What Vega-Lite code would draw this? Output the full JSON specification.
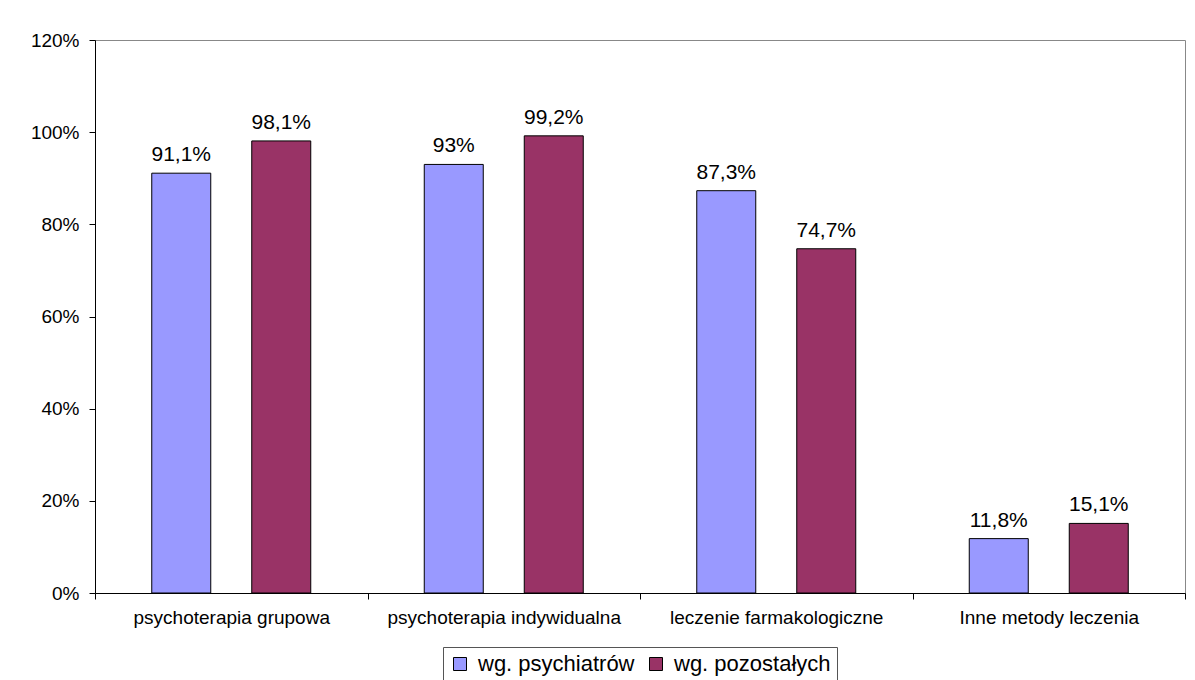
{
  "$schema": "https://vega.github.io/schema/vega-lite/v6.json",
  "autosize": {"type": "none"},
  "padding": {"left": 95, "top": 40, "right": 10, "bottom": 87},
  "width": 1090,
  "height": 553,
  "background": "white",
  "data": {
    "values": [
      {"category": "psychoterapia grupowa", "series": "wg. psychiatrów", "value": 0.911},
      {"category": "psychoterapia grupowa", "series": "wg. pozostałych", "value": 0.981},
      {"category": "psychoterapia indywidualna", "series": "wg. psychiatrów", "value": 0.93},
      {"category": "psychoterapia indywidualna", "series": "wg. pozostałych", "value": 0.992},
      {"category": "leczenie farmakologiczne", "series": "wg. psychiatrów", "value": 0.873},
      {"category": "leczenie farmakologiczne", "series": "wg. pozostałych", "value": 0.747},
      {"category": "Inne metody leczenia", "series": "wg. psychiatrów", "value": 0.118},
      {"category": "Inne metody leczenia", "series": "wg. pozostałych", "value": 0.151}
    ]
  },
  "encoding": {
    "x": {
      "field": "category", "type": "nominal", "sort": null,
      "scale": {"paddingInner": 0, "paddingOuter": 0},
      "axis": {
        "title": null, "labelAngle": 0, "tickBand": "extent",
        "domainColor": "black", "tickColor": "black", "tickSize": 6,
        "labelFontSize": 19, "labelColor": "black", "labelPadding": 9,
        "labelFont": "Liberation Sans", "labelLimit": 400
      }
    },
    "xOffset": {
      "field": "series", "type": "nominal",
      "sort": ["wg. psychiatrów", "wg. pozostałych"],
      "scale": {"paddingInner": 0.41, "paddingOuter": 0.5675}
    },
    "y": {
      "field": "value", "type": "quantitative",
      "scale": {"domain": [0, 1.2], "nice": false},
      "axis": {
        "title": null, "format": ".0%", "values": [0, 0.2, 0.4, 0.6, 0.8, 1.0, 1.2],
        "grid": false, "domainColor": "black", "tickColor": "black", "tickSize": 6,
        "labelFontSize": 19, "labelColor": "black", "labelPadding": 10,
        "labelFont": "Liberation Sans"
      }
    }
  },
  "layer": [
    {
      "mark": {"type": "bar", "stroke": "black", "strokeWidth": 1},
      "encoding": {
        "color": {
          "field": "series", "type": "nominal",
          "scale": {"domain": ["wg. psychiatrów", "wg. pozostałych"], "range": ["#9999FF", "#993366"]},
          "legend": {
            "title": null, "orient": "none", "legendX": 348, "legendY": 607,
            "direction": "horizontal", "strokeColor": "#555555", "padding": 6,
            "labelFontSize": 22, "labelFont": "Liberation Sans", "labelColor": "black",
            "labelLimit": 400,
            "symbolType": "square", "symbolSize": 169,
            "symbolStrokeColor": "black", "symbolStrokeWidth": 1, "symbolOpacity": 1,
            "labelOffset": 7, "columnPadding": 10
          }
        }
      }
    },
    {
      "mark": {"type": "text", "dy": -12, "baseline": "alphabetic", "align": "center", "fontSize": 21, "font": "Liberation Sans", "color": "black"},
      "encoding": {
        "text": {"field": "value", "type": "quantitative", "format": ".1~%"}
      }
    }
  ],
  "config": {
    "view": {"stroke": "#888888", "strokeWidth": 1},
    "locale": {"number": {"decimal": ",", "thousands": " ", "grouping": [3], "currency": ["", " zł"]}}
  }
}
